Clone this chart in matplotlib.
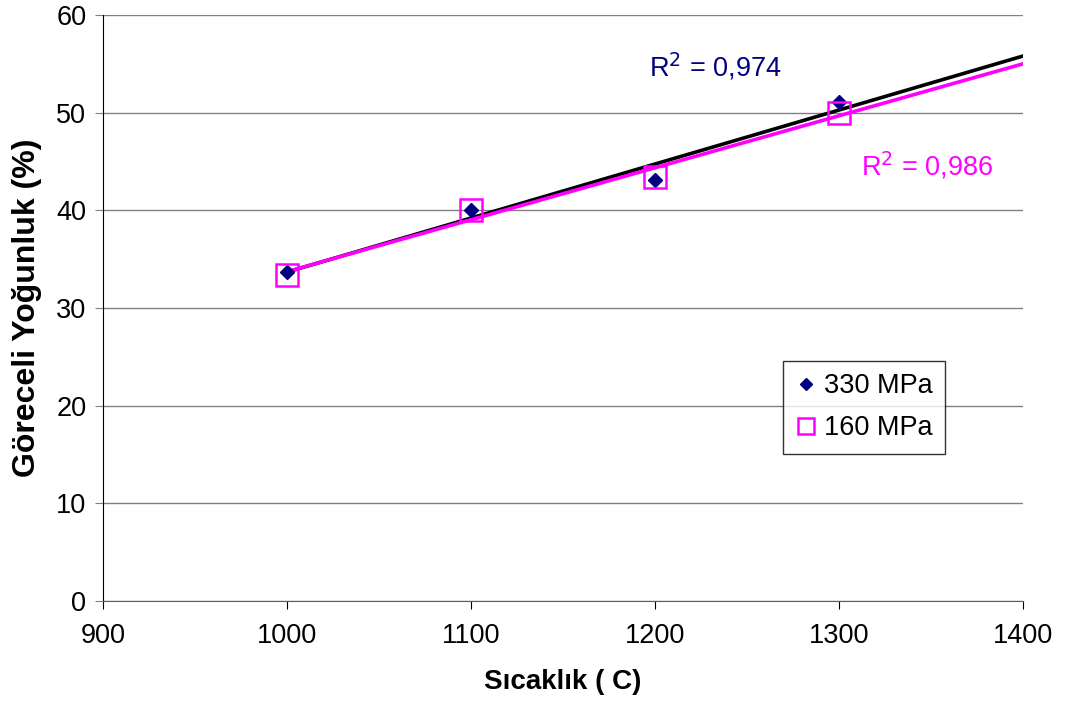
import numpy as np
import matplotlib
matplotlib.use("Agg")
import matplotlib.pyplot as plt

plt.rcParams['font.family'] = ['Liberation Sans', 'DejaVu Sans']

temps = [1000, 1100, 1200, 1300]
dens_330 = [33.7, 40.0, 43.1, 51.1]
dens_160 = [33.4, 40.0, 43.4, 50.0]
labels = ["330 MPa", "160 MPa"]
r2_330 = "R$^2$ = 0,974"
r2_160 = "R$^2$ = 0,986"

fig = plt.figure(figsize=(10.69, 7.13), dpi=100)
ax = fig.add_axes([103/1069, 1 - 601/713, 920/1069, 586/713])

fx = np.array([1000, 1400])
p330 = np.polyfit(temps, dens_330, 1)
p160 = np.polyfit(temps, dens_160, 1)

ax.plot(fx, np.polyval(p330, fx), color='black', lw=2.6, zorder=3)
ax.plot(fx, np.polyval(p160, fx), color='#FF00FF', lw=2.6, zorder=4)
ax.plot(temps, dens_330, linestyle='none', marker='D', color='#000080', ms=7.5, zorder=5, label=labels[0])
ax.plot(temps, dens_160, linestyle='none', marker='s', markerfacecolor='none', markeredgecolor='#FF00FF', mew=1.8, ms=16, zorder=6, label=labels[1])

ax.set_xlim(900, 1400)
ax.set_ylim(0, 60)
ax.set_xticks(range(900, 1401, 100))
ax.set_yticks(range(0, 61, 10))
ax.yaxis.grid(True, color='#808080', lw=1)
ax.set_axisbelow(True)
for s in ['top', 'right']:
    ax.spines[s].set_visible(False)
ax.spines['left'].set_color('black')
ax.spines['bottom'].set_color('#606060')
ax.tick_params(axis='both', labelsize=19.5, labelcolor='black', length=6, direction='out')
ax.tick_params(axis='y', colors='#808080', labelcolor='black', pad=6)
ax.tick_params(axis='x', colors='black', pad=10)

ax.set_xlabel("Sıcaklık ( C)", fontsize=20, fontweight='bold', labelpad=14)
ax.set_ylabel("Göreceli Yoğunluk (%)", fontsize=23, fontweight='bold', labelpad=10)

ax.text(1197, 54.7, r2_330, color='#000080', fontsize=19.5, va='center', ha='left')
ax.text(1312, 44.6, r2_160, color='#FF00FF', fontsize=19.5, va='center', ha='left')

leg = ax.legend(loc='upper left', bbox_to_anchor=((783-103)/920, (601-361)/586), fontsize=19.5,
                frameon=True, fancybox=False, edgecolor='black', borderpad=0.45,
                handletextpad=0.25, handlelength=0.8, labelspacing=0.6, markerscale=0.75,
                borderaxespad=0)
leg.get_frame().set_linewidth(1)

fig.savefig("out.png", dpi=100)
